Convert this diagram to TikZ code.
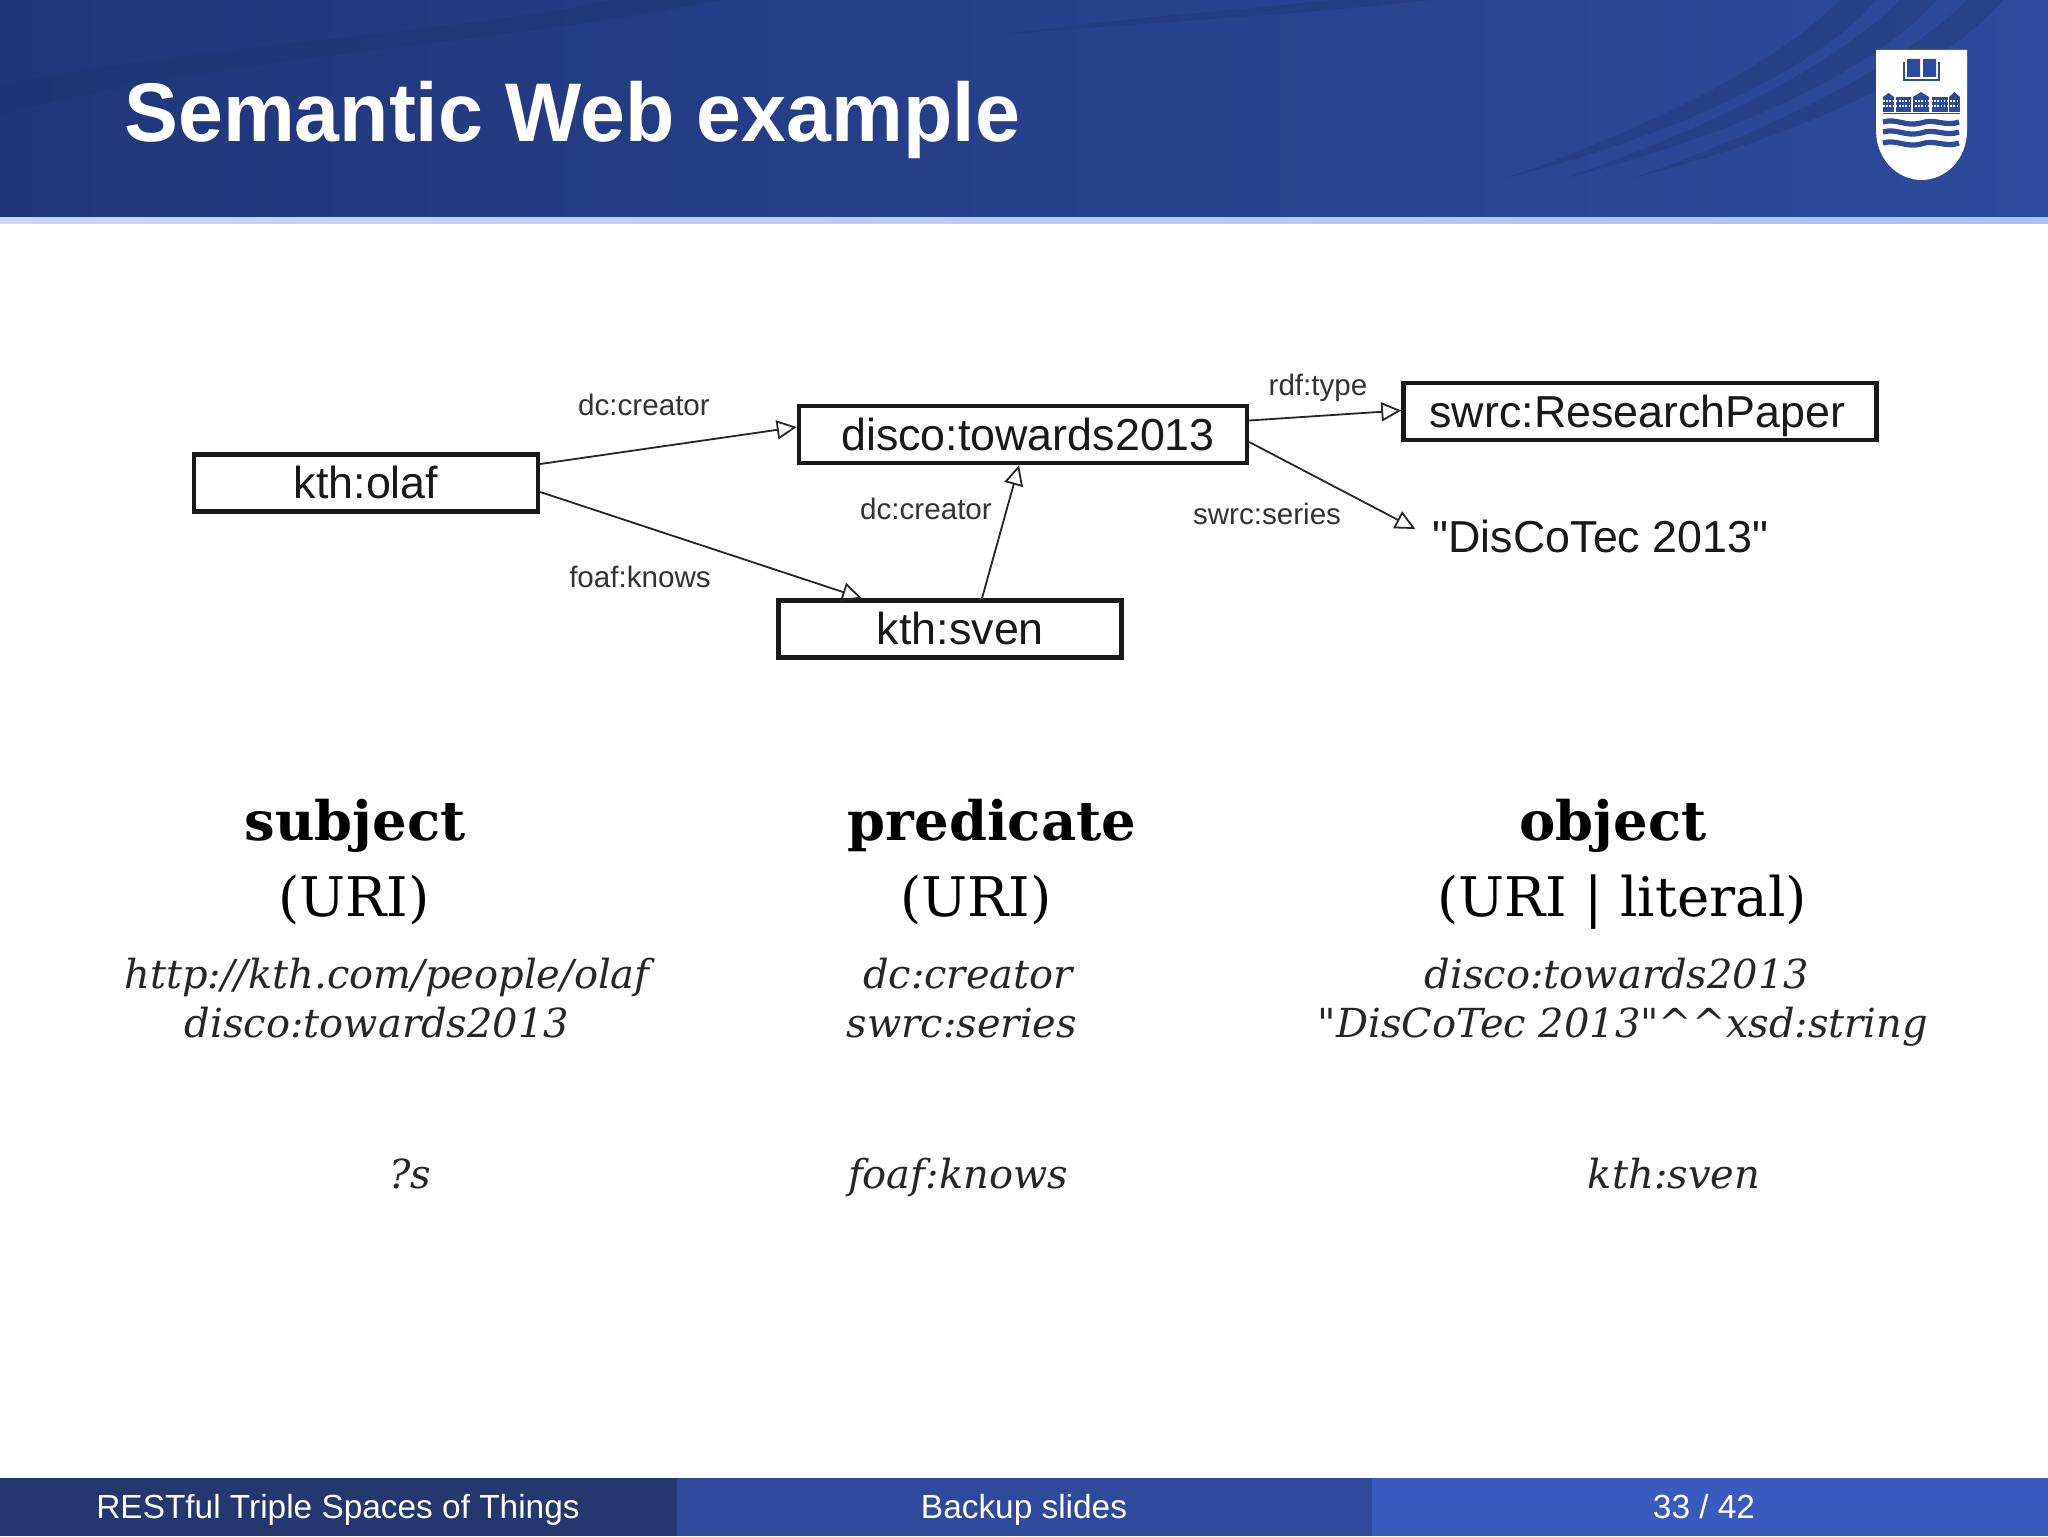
\documentclass[tikz,border=0pt]{standalone}
\usepackage{fontspec}
\setmainfont{Liberation Sans}
\newfontfamily\dejaserif{DejaVu Serif}
\newfontfamily\plainsans{Liberation Sans}
\newfontfamily\titlefont[FakeStretch=0.97]{Liberation Sans}
\usetikzlibrary{arrows.meta,shadings}
\definecolor{headdark}{HTML}{21367A}
\definecolor{headblue}{HTML}{2D4A9C}
\definecolor{streak}{HTML}{1E3370}
\definecolor{stripleft}{HTML}{C8D6F8}
\definecolor{stripright}{HTML}{A9C1F6}
\definecolor{footleft}{HTML}{24376F}
\definecolor{footmid}{HTML}{2F4A9C}
\definecolor{footright}{HTML}{395BC0}
\definecolor{labelgrey}{HTML}{333333}
\tikzset{
	graphbox/.style={draw=black!90, line width=2.2pt, fill=white, inner sep=0, text height=17pt, text depth=1.5pt, minimum height=28.5pt, font=\plainsans\fontsize{22.4}{26}\selectfont, text=black!90},
	graphlabel/.style={inner sep=0, anchor=base, font=\fontsize{14.8}{17}\selectfont, text=labelgrey},
	graphedge/.style={-{Triangle[open, length=10pt, width=9.5pt]}, line width=0.9pt, black!85},
	headword/.style={inner sep=0, anchor=base, font=\dejaserif\bfseries\fontsize{27.2}{32}\selectfont},
	kindword/.style={inner sep=0, anchor=base, font=\dejaserif\fontsize{27.3}{30}\selectfont},
	sample/.style={inner sep=0, anchor=base, font=\dejaserif\itshape\fontsize{20}{23}\selectfont, text=black!85},
	footword/.style={inner sep=0, anchor=base, text=white, font=\fontsize{16.7}{20}\selectfont},
}
\begin{document}
\begin{tikzpicture}[x=0.5pt, y=-0.5pt]
	\useasboundingbox (0,0) rectangle (2048,1536);
	% header band
	\shade[left color=headdark, right color=headblue] (0,0) rectangle (2048,217);
	\begin{scope}
		\clip (0,0) rectangle (2048,217);
		\foreach \x in {1876,1936,2003}
			{
				\fill[streak, opacity=0.35] (\x,0) .. controls (\x-50,60) and (\x-180,130) .. (\x-370,178) .. controls (\x-190,115) and (\x-85,50) .. (\x-36,0) -- cycle;
			}
		\fill[streak, opacity=0.4] (0,115) .. controls (220,55) and (500,45) .. (720,0) -- (610,0) .. controls (480,30) and (200,45) .. (0,85) -- cycle;
		\fill[streak, opacity=0.4] (1000,35) .. controls (1150,22) and (1300,15) .. (1430,0) -- (1330,0) .. controls (1220,12) and (1120,18) .. cycle;
	\end{scope}
	\shade[left color=stripleft, right color=stripright] (0,217) rectangle (2048,223);
	\node[inner sep=0, anchor=base west, text=white, font=\titlefont\bfseries\fontsize{41.6}{46}\selectfont] (title) at (124,141) {Semantic Web example};
	% shield
	\fill[white] (1876,50) -- (1967,50) -- (1967,130) .. controls (1967,160) and (1945,180) .. (1921.5,180) .. controls (1898,180) and (1876,160) .. (1876,130) -- cycle;
	\fill[headblue] (1907,59) rectangle (1920,77) (1923,59) rectangle (1936,77);
	\draw[headblue, line width=0.8pt] (1904,62) -- (1904,80) -- (1939,80) -- (1939,62);
	\foreach \x/\w in {1883/11,1896/15,1913/16,1932/16,1949/11}
		{
			\fill[headblue] (\x,97) rectangle (\x+\w,112);
		}
	\fill[headblue] (1883,97) -- (1888.5,93) -- (1894,97) -- cycle (1913,97) -- (1921,92) -- (1929,97) -- cycle (1949,97) -- (1954.5,92) -- (1960,97) -- cycle;
	\fill[headblue] (1883,113.5) rectangle (1960,114.5);
	\foreach \y in {101,106}
		{
			\draw[white, line width=0.8pt, dash pattern=on 0.8pt off 0.8pt] (1883,\y) -- (1960,\y);
		}
	\foreach \y in {122,132,143}
		{
			\draw[headblue, line width=2.6pt] (1883,\y) .. controls (1897,\y-4) and (1905,\y+5) .. (1921,\y+1) .. controls (1935,\y-4) and (1945,\y+5) .. (1959,\y);
		}
	% graph
	\node[graphbox, minimum width=172pt] (olaf) at (366,483) {kth:olaf};
	\node[graphbox, minimum width=224pt] (disco) at (1023,434.5) {\hspace{5pt}disco:towards2013};
	\node[graphbox, minimum width=171.5pt] (sven) at (950,629) {\hspace{10.4pt}kth:sven};
	\node[graphbox, minimum width=236.5pt] (paper) at (1640,411.5) {\hspace{-2.6pt}swrc:ResearchPaper};
	\node[inner sep=0, anchor=base, font=\plainsans\fontsize{22.4}{26}\selectfont, text=black!90] (discotec) at (1600.5,552) {"DisCoTec 2013"};
	\draw[graphedge] ([yshift=9.5pt]olaf.east) -- ([yshift=3.75pt]disco.west);
	\draw[graphedge] ([yshift=-4.5pt]olaf.east) -- ([xshift=-44pt]sven.north);
	\draw[graphedge] ([xshift=16pt]sven.north) -- ([xshift=-2pt]disco.south);
	\draw[graphedge] ([yshift=7pt]disco.east) -- ([yshift=0.5pt]paper.west);
	\draw[graphedge] ([yshift=-3.75pt]disco.east) -- ([xshift=-8.5pt, yshift=3.5pt]discotec.west);
	\node[graphlabel] (creatora) at (644,415) {dc:creator};
	\node[graphlabel] (knows) at (640,587) {foaf:knows};
	\node[graphlabel] (creatorb) at (926,519) {dc:creator};
	\node[graphlabel] (rdftype) at (1318,395) {rdf:type};
	\node[graphlabel] (series) at (1267,524) {swrc:series};
	% triple table
	\node[headword] (subject) at (355,840) {subject};
	\node[headword] (predicate) at (992,840) {predicate};
	\node[headword] (object) at (1613,840) {object};
	\node[kindword] (urisub) at (354,916) {(URI)};
	\node[kindword] (uripred) at (976,916) {(URI)};
	\node[kindword] (uriobj) at (1622,916) {(URI | literal)};
	\node[sample] (subone) at (387,988) {http://kth.com/people/olaf};
	\node[sample] (subtwo) at (377,1037) {disco:towards2013};
	\node[sample] (predone) at (968,988) {dc:creator};
	\node[sample] (predtwo) at (962,1037) {swrc:series};
	\node[sample] (objone) at (1617,988) {disco:towards2013};
	\node[sample] (objtwo) at (1623,1037) {"DisCoTec 2013"\^{}\^{}xsd:string};
	\node[sample] (vars) at (410,1188) {?s};
	\node[sample] (varp) at (958,1188) {foaf:knows};
	\node[sample] (varo) at (1674,1188) {kth:sven};
	% footer
	\fill[footleft] (0,1478) rectangle (677,1536);
	\fill[footmid] (677,1478) rectangle (1372,1536);
	\fill[footright] (1372,1478) rectangle (2048,1536);
	\node[footword] (talk) at (338,1518) {RESTful Triple Spaces of Things};
	\node[footword] (part) at (1024,1518) {Backup slides};
	\node[footword] (page) at (1704,1518) {33 / 42};
\end{tikzpicture}
\end{document}
